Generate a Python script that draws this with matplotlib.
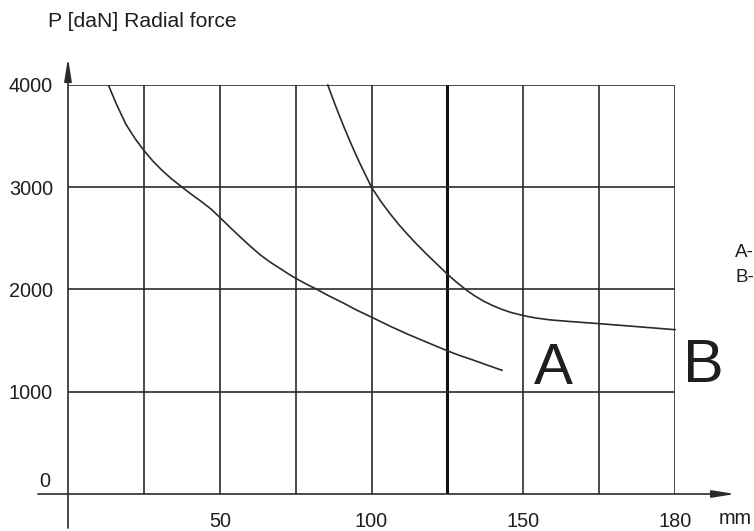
import matplotlib
matplotlib.use("Agg")
import matplotlib.pyplot as plt

# distance [mm] and radial force [daN]
CURVE_A_X = [13.3, 16, 19, 22, 25, 28, 31, 34, 36.9, 40, 43.5, 47, 50, 53.5, 56.7, 60,
             63.3, 66.5, 69.9, 72.5, 75.1, 78.5, 81.9, 86, 90.6, 95, 100, 106, 112,
             118.5, 125, 129, 133.5, 138, 143]
CURVE_A_Y = [4000, 3810, 3620, 3480, 3360, 3255, 3165, 3085, 3017, 2945, 2870, 2790, 2706,
             2605, 2515, 2425, 2340, 2270, 2205, 2155, 2108, 2053, 2003, 1937, 1870, 1800,
             1730, 1643, 1562, 1481, 1400, 1355, 1310, 1262, 1210]

CURVE_B_X = [85.6, 87, 89, 91, 93, 95, 96.2, 98, 100, 103, 106, 109, 112, 115, 118, 121.5,
             125, 128, 131, 134, 137, 140, 143, 146, 150, 154, 158.8, 165, 175, 187, 200]
CURVE_B_Y = [4000, 3887, 3732, 3584, 3443, 3309, 3232, 3122, 3000, 2865, 2745, 2635, 2535,
             2440, 2350, 2250, 2150, 2072, 2000, 1938, 1885, 1842, 1805, 1775, 1745, 1722,
             1703, 1688, 1666, 1638, 1607]

X_GRID = [25, 50, 75, 100, 150, 175, 200]
X_THICK = 125
X_TICKS = [50, 100, 150, 200]
X_TICK_LABELS = ["50", "100", "150", "180"]
Y_TICKS = [1000, 2000, 3000, 4000]
Y_TICK_LABELS = ["1000", "2000", "3000", "4000"]

INK = "#2b2b2b"
TEXT = "#1e1e1e"
FONT = ["Liberation Sans", "DejaVu Sans"]

plt.rcParams["font.family"] = FONT

fig = plt.figure(figsize=(7.54, 5.31), dpi=100)
ax = fig.add_axes([68 / 754, 37 / 531, 607 / 754, 409 / 531])
ax.set_xlim(0, 200)
ax.set_ylim(0, 4000)
for s in ax.spines.values():
    s.set_visible(False)

# grid
for x in X_GRID:
    ax.axvline(x, color=INK, lw=1.2, zorder=1)
ax.axvline(X_THICK, color="#111111", lw=2.2, zorder=1)
for y in Y_TICKS:
    ax.axhline(y, color=INK, lw=1.2, zorder=1)

ax.set_xticks(X_TICKS)
ax.set_xticklabels(X_TICK_LABELS)
ax.set_yticks(Y_TICKS)
ax.set_yticklabels(Y_TICK_LABELS)
ax.tick_params(axis="x", length=0, pad=13, labelsize=14.3, colors=TEXT)
ax.tick_params(axis="y", length=0, pad=10.8, labelsize=14.3, colors=TEXT)
ax.text(-5.9, 127, "0", ha="right", va="center", fontsize=14.3, color=TEXT)
ax.text(219.8, -244, "mm", ha="center", va="center", fontsize=14.3, color=TEXT)

# axes with arrows
arrow = dict(arrowstyle="-|>,head_length=1.37,head_width=0.22", lw=1.2,
             color=INK, shrinkA=0, shrinkB=0, mutation_scale=10)
ax.annotate("", xy=(219.8, 0), xytext=(-9.9, 0), arrowprops=arrow,
            annotation_clip=False)
ax.annotate("", xy=(0, 4264), xytext=(0, -333), arrowprops=arrow,
            annotation_clip=False)

# curves
ax.plot(CURVE_A_X, CURVE_A_Y, color=INK, lw=1.2, zorder=3)
ax.plot(CURVE_B_X, CURVE_B_Y, color=INK, lw=1.2, zorder=3, clip_on=False)

ax.text(159.8, 1076, "A", ha="center", va="baseline", fontsize=42, color=TEXT)
ax.text(209.2, 1095, "B", ha="center", va="baseline", fontsize=44, color=TEXT)
ax.text(219.8, 2318, "A-", ha="left", va="baseline", fontsize=13.5, color=TEXT)
ax.text(219.8, 2073, "B-", ha="left", va="baseline", fontsize=13.5, color=TEXT)

fig.text(48 / 754, 1 - 27 / 531, "P [daN] Radial force", ha="left", va="baseline",
         fontsize=15.2, color=TEXT)

fig.savefig("out.png", dpi=100)
